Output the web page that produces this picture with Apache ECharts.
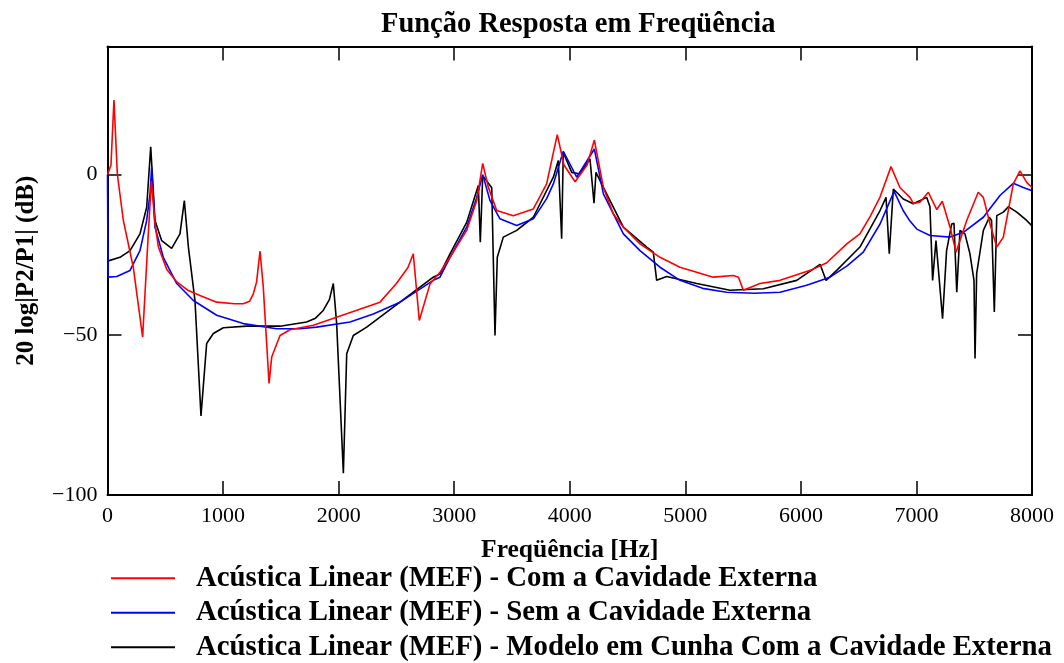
<!DOCTYPE html>
<html>
<head>
<meta charset="utf-8">
<script src="https://cdn.jsdelivr.net/npm/echarts@6/dist/echarts.min.js"></script>
<style>
html,body{margin:0;padding:0;background:#fff;}
#chart{width:1064px;height:663px;}
</style>
</head>
<body>
<div id="chart"></div>
<script>
// ---- data (frequency in Hz, level in dB) ----
const seriesNames = [
  'Acústica Linear (MEF) - Com a Cavidade Externa',
  'Acústica Linear (MEF) - Sem a Cavidade Externa',
  'Acústica Linear (MEF) - Modelo em Cunha Com a Cavidade Externa'
];
const xTicks = [0, 1000, 2000, 3000, 4000, 5000, 6000, 7000, 8000];
const yTicks = [-100, -50, 0];

const freqRed = [0,30,56,85,137,223,304,353,380,410,440,512,600,700,800,945,1100,1175,1230,1262,1290,1320,1348,1398,1421,1493,1579,1781,2070,2358,2500,2600,2646,2698,2791,2877,2964,3108,3195,3247,3295,3368,3512,3685,3800,3892,3950,4046,4150,4213,4291,4377,4464,4608,4781,4954,5242,5415,5460,5502,5646,5820,6108,6224,6397,6511,6600,6685,6780,6857,6944,6973,7030,7103,7176,7224,7291,7343,7435,7535,7579,7637,7695,7752,7838,7896,7954,8000];
const dbRed   = [0,3,23.3,0.2,-14.3,-28.9,-50.7,-18.5,-2,-15,-22.5,-29.5,-33.5,-36.2,-37.7,-39.8,-40.3,-40.3,-39.5,-37.2,-33.5,-23.9,-35.1,-65.2,-56.9,-50.2,-48.4,-47,-43.4,-39.8,-34,-29,-24.7,-45.5,-34.1,-30.5,-25.8,-17.4,-8.1,3.5,-3.9,-11.2,-12.8,-10.7,-2.9,12.5,3,-2.2,3,10.8,-4,-12.2,-16.4,-21.6,-25.8,-28.9,-32,-31.5,-32,-36.1,-34,-33,-29.5,-27.5,-21.6,-18.5,-13,-7,2.5,-4,-7.1,-9,-8.6,-5.5,-10.9,-8.3,-16.4,-24.2,-14.3,-5.5,-7.1,-15.4,-22.6,-19.5,-2.9,1.2,-2.4,-4];

const freqBlue = [0,5,80,195,281,339,368,382,411,483,599,743,945,1175,1464,1666,1810,2099,2300,2531,2819,2877,2964,3108,3195,3247,3310,3396,3541,3685,3800,3858,3944,4060,4213,4291,4464,4608,4781,4954,5150,5358,5600,5820,6050,6252,6400,6540,6685,6750,6807,6885,6944,7003,7117,7291,7406,7579,7723,7838,7925,8000];
const dbBlue   = [0,-32,-31.8,-29.9,-23.7,-14.3,-6,2.3,-16.4,-25.8,-34,-39.3,-43.9,-46.5,-48.1,-48.1,-47.6,-46,-43.5,-39.8,-33,-32,-25.8,-16.4,-7.1,0,-8.1,-13.8,-15.9,-13.8,-7.5,-2.9,7.3,-0.8,8,-6,-18.5,-23.7,-28.9,-33,-35.5,-36.7,-37,-36.7,-34.5,-32,-28.5,-24.2,-15.4,-10,-5.2,-11.2,-14.5,-17,-19,-19.5,-18,-13.3,-6.5,-2.7,-4,-5];

const freqBlack = [0,108,195,281,339,374,411,469,555,627,665,700,757,809,858,916,1002,1204,1493,1723,1800,1867,1920,1954,1983,2041,2070,2127,2243,2531,2819,2877,2964,3108,3209,3226,3247,3325,3353,3373,3425,3541,3685,3858,3901,3930,3944,4017,4089,4175,4210,4227,4291,4464,4666,4723,4752,4839,5099,5387,5675,5964,6166,6218,6310,6511,6685,6737,6765,6800,6886,6973,7089,7117,7140,7169,7226,7261,7305,7325,7349,7377,7420,7463,7498,7507,7521,7579,7631,7650,7674,7695,7752,7795,7868,7954,8000];
const dbBlack   = [-27,-25.8,-23.7,-18.5,-10.2,8.7,-14.3,-20.6,-23,-18.5,-8.1,-22.6,-39.3,-75.3,-52.7,-49.6,-47.8,-47.3,-47.3,-46,-44.8,-42.4,-39,-34,-46.5,-93.2,-55.9,-50.2,-47.6,-39.8,-32,-31,-24.7,-14.9,-3.4,-21.1,-0.3,-4.1,-50.2,-25.8,-19.5,-17.4,-13.3,-0.8,4.4,-20,6.9,0.7,0.2,4.9,-8.9,0.7,-4,-16.4,-22.6,-24.2,-33,-31.8,-34,-36.1,-35.6,-33,-28,-33,-29.9,-22.6,-11.2,-7.1,-24.7,-4.5,-7.6,-9.1,-7.1,-10,-33,-20.6,-45,-23.7,-15.4,-15.2,-36.7,-17.4,-18.5,-24.7,-33,-57.4,-30.9,-17.4,-13.3,-14.3,-42.9,-12.8,-11.7,-10,-11.7,-14.3,-16];

const colors = ['#ff0000', '#0000ff', '#000000'];

function pairs(xs, ys) { return xs.map((x, i) => [x, ys[i]]); }
const FONT = '"Liberation Serif", "Times New Roman", serif';
const minus = v => String(v).replace('-', '\u2212');

const chart = echarts.init(document.getElementById('chart'), null, {renderer: 'canvas'});

const axisLineStyle = {color: '#000', width: 2};
const tickStyle = {color: '#000', width: 1.5};

const option = {
  animation: false,
  backgroundColor: '#fff',
  title: {
    text: 'Função Resposta em Freqüência',
    left: 376, top: 5,
    textStyle: {fontFamily: FONT, fontWeight: 'bold', fontSize: 28.5, color: '#000'}
  },
  grid: {left: 107.5, right: 32, top: 46.5, bottom: 168, containLabel: false},
  legend: {
    orient: 'vertical', left: 106, top: 556, height: 120,
    itemWidth: 64, itemHeight: 2, itemGap: 0,
    icon: 'rect',
    data: seriesNames,
    textStyle: {fontFamily: FONT, fontWeight: 'bold', fontSize: 28.8, color: '#000', lineHeight: 34.5, padding: [0, 0, 0, 16]}
  },
  xAxis: [{
    type: 'value', min: 0, max: 8000, interval: 1000, position: 'bottom',
    name: 'Freqüência [Hz]', nameLocation: 'middle', nameGap: 42,
    nameTextStyle: {fontFamily: FONT, fontWeight: 'bold', fontSize: 25.5, color: '#000'},
    axisLine: {show: true, onZero: false, lineStyle: axisLineStyle},
    axisTick: {show: true, inside: true, length: 14, lineStyle: tickStyle},
    axisLabel: {margin: 10, fontFamily: FONT, fontSize: 22, color: '#000', customValues: xTicks, formatter: v => String(v)},
    splitLine: {show: false}
  }, {
    type: 'value', min: 0, max: 8000, interval: 1000, position: 'top',
    axisLine: {show: true, onZero: false, lineStyle: axisLineStyle},
    axisTick: {show: true, inside: true, length: 14, lineStyle: tickStyle},
    axisLabel: {show: false},
    splitLine: {show: false}
  }],
  yAxis: [{
    type: 'value', min: -100, max: 40, position: 'left',
    name: '20 log|P2/P1| (dB)', nameLocation: 'middle', nameGap: 68, nameRotate: 90,
    nameTextStyle: {fontFamily: FONT, fontWeight: 'bold', fontSize: 25, color: '#000'},
    axisLine: {show: true, onZero: false, lineStyle: axisLineStyle},
    axisTick: {show: true, inside: true, length: 14, lineStyle: tickStyle, customValues: yTicks},
    axisLabel: {margin: 10, fontFamily: FONT, fontSize: 22, color: '#000', customValues: yTicks, formatter: minus},
    splitLine: {show: false}
  }, {
    type: 'value', min: -100, max: 40, position: 'right',
    axisLine: {show: true, onZero: false, lineStyle: axisLineStyle},
    axisTick: {show: true, inside: true, length: 14, lineStyle: tickStyle, customValues: yTicks},
    axisLabel: {show: false},
    splitLine: {show: false}
  }],
  series: [
    {name: seriesNames[0], type: 'line', data: pairs(freqRed, dbRed)},
    {name: seriesNames[1], type: 'line', data: pairs(freqBlue, dbBlue)},
    {name: seriesNames[2], type: 'line', data: pairs(freqBlack, dbBlack)}
  ].map((s, i) => Object.assign(s, {
    xAxisIndex: 0, yAxisIndex: 0, showSymbol: false, symbol: 'none',
    color: colors[i], lineStyle: {color: colors[i], width: 1.6}, z: 3 - i + 2
  }))
};
chart.setOption(option);
</script>
</body>
</html>
